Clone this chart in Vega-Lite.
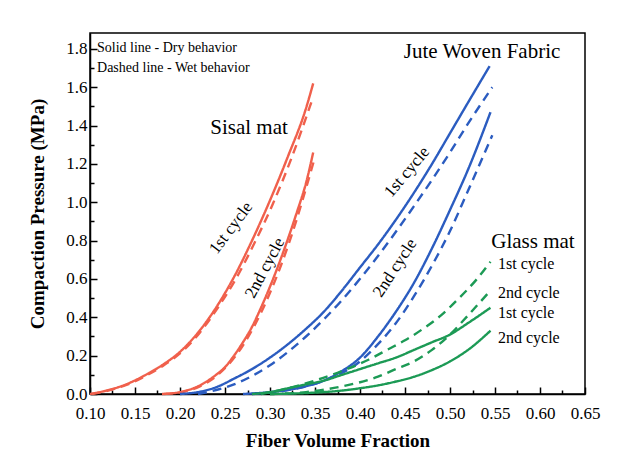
{
  "$schema": "https://vega.github.io/schema/vega-lite/v6.json",
  "width": 495,
  "height": 361,
  "autosize": "none",
  "padding": {"left": 90, "top": 33, "right": 34, "bottom": 76},
  "background": "white",
  "config": {
    "view": {"stroke": "black", "strokeWidth": 1.5},
    "font": "Liberation Serif, Times New Roman, serif",
    "text": {"font": "Liberation Serif, Times New Roman, serif", "color": "black"}
  },
  "datasets": {
    "curves": [
      {"s": "sisal1d", "mat": "Sisal", "cond": "Dry", "x": 0.10, "y": 0.0},
      {"s": "sisal1d", "mat": "Sisal", "cond": "Dry", "x": 0.12, "y": 0.02},
      {"s": "sisal1d", "mat": "Sisal", "cond": "Dry", "x": 0.14, "y": 0.05},
      {"s": "sisal1d", "mat": "Sisal", "cond": "Dry", "x": 0.16, "y": 0.095},
      {"s": "sisal1d", "mat": "Sisal", "cond": "Dry", "x": 0.18, "y": 0.15},
      {"s": "sisal1d", "mat": "Sisal", "cond": "Dry", "x": 0.20, "y": 0.22},
      {"s": "sisal1d", "mat": "Sisal", "cond": "Dry", "x": 0.22, "y": 0.32},
      {"s": "sisal1d", "mat": "Sisal", "cond": "Dry", "x": 0.24, "y": 0.45},
      {"s": "sisal1d", "mat": "Sisal", "cond": "Dry", "x": 0.26, "y": 0.61},
      {"s": "sisal1d", "mat": "Sisal", "cond": "Dry", "x": 0.28, "y": 0.80},
      {"s": "sisal1d", "mat": "Sisal", "cond": "Dry", "x": 0.30, "y": 1.01},
      {"s": "sisal1d", "mat": "Sisal", "cond": "Dry", "x": 0.32, "y": 1.24},
      {"s": "sisal1d", "mat": "Sisal", "cond": "Dry", "x": 0.34, "y": 1.49},
      {"s": "sisal1d", "mat": "Sisal", "cond": "Dry", "x": 0.348, "y": 1.62},

      {"s": "sisal1w", "mat": "Sisal", "cond": "Wet", "x": 0.102, "y": 0.0},
      {"s": "sisal1w", "mat": "Sisal", "cond": "Wet", "x": 0.122, "y": 0.02},
      {"s": "sisal1w", "mat": "Sisal", "cond": "Wet", "x": 0.142, "y": 0.05},
      {"s": "sisal1w", "mat": "Sisal", "cond": "Wet", "x": 0.162, "y": 0.095},
      {"s": "sisal1w", "mat": "Sisal", "cond": "Wet", "x": 0.182, "y": 0.15},
      {"s": "sisal1w", "mat": "Sisal", "cond": "Wet", "x": 0.202, "y": 0.22},
      {"s": "sisal1w", "mat": "Sisal", "cond": "Wet", "x": 0.222, "y": 0.32},
      {"s": "sisal1w", "mat": "Sisal", "cond": "Wet", "x": 0.242, "y": 0.45},
      {"s": "sisal1w", "mat": "Sisal", "cond": "Wet", "x": 0.262, "y": 0.60},
      {"s": "sisal1w", "mat": "Sisal", "cond": "Wet", "x": 0.283, "y": 0.79},
      {"s": "sisal1w", "mat": "Sisal", "cond": "Wet", "x": 0.303, "y": 0.99},
      {"s": "sisal1w", "mat": "Sisal", "cond": "Wet", "x": 0.323, "y": 1.22},
      {"s": "sisal1w", "mat": "Sisal", "cond": "Wet", "x": 0.348, "y": 1.55},

      {"s": "sisal2d", "mat": "Sisal", "cond": "Dry", "x": 0.18, "y": 0.0},
      {"s": "sisal2d", "mat": "Sisal", "cond": "Dry", "x": 0.20, "y": 0.01},
      {"s": "sisal2d", "mat": "Sisal", "cond": "Dry", "x": 0.22, "y": 0.04},
      {"s": "sisal2d", "mat": "Sisal", "cond": "Dry", "x": 0.24, "y": 0.10},
      {"s": "sisal2d", "mat": "Sisal", "cond": "Dry", "x": 0.25, "y": 0.14},
      {"s": "sisal2d", "mat": "Sisal", "cond": "Dry", "x": 0.26, "y": 0.20},
      {"s": "sisal2d", "mat": "Sisal", "cond": "Dry", "x": 0.27, "y": 0.27},
      {"s": "sisal2d", "mat": "Sisal", "cond": "Dry", "x": 0.28, "y": 0.35},
      {"s": "sisal2d", "mat": "Sisal", "cond": "Dry", "x": 0.29, "y": 0.45},
      {"s": "sisal2d", "mat": "Sisal", "cond": "Dry", "x": 0.30, "y": 0.56},
      {"s": "sisal2d", "mat": "Sisal", "cond": "Dry", "x": 0.31, "y": 0.68},
      {"s": "sisal2d", "mat": "Sisal", "cond": "Dry", "x": 0.32, "y": 0.81},
      {"s": "sisal2d", "mat": "Sisal", "cond": "Dry", "x": 0.33, "y": 0.95},
      {"s": "sisal2d", "mat": "Sisal", "cond": "Dry", "x": 0.34, "y": 1.10},
      {"s": "sisal2d", "mat": "Sisal", "cond": "Dry", "x": 0.348, "y": 1.26},

      {"s": "sisal2w", "mat": "Sisal", "cond": "Wet", "x": 0.182, "y": 0.0},
      {"s": "sisal2w", "mat": "Sisal", "cond": "Wet", "x": 0.202, "y": 0.01},
      {"s": "sisal2w", "mat": "Sisal", "cond": "Wet", "x": 0.222, "y": 0.04},
      {"s": "sisal2w", "mat": "Sisal", "cond": "Wet", "x": 0.242, "y": 0.10},
      {"s": "sisal2w", "mat": "Sisal", "cond": "Wet", "x": 0.262, "y": 0.20},
      {"s": "sisal2w", "mat": "Sisal", "cond": "Wet", "x": 0.282, "y": 0.35},
      {"s": "sisal2w", "mat": "Sisal", "cond": "Wet", "x": 0.302, "y": 0.55},
      {"s": "sisal2w", "mat": "Sisal", "cond": "Wet", "x": 0.322, "y": 0.80},
      {"s": "sisal2w", "mat": "Sisal", "cond": "Wet", "x": 0.349, "y": 1.22},

      {"s": "jute1d", "mat": "Jute", "cond": "Dry", "x": 0.20, "y": 0.0},
      {"s": "jute1d", "mat": "Jute", "cond": "Dry", "x": 0.22, "y": 0.01},
      {"s": "jute1d", "mat": "Jute", "cond": "Dry", "x": 0.24, "y": 0.035},
      {"s": "jute1d", "mat": "Jute", "cond": "Dry", "x": 0.26, "y": 0.08},
      {"s": "jute1d", "mat": "Jute", "cond": "Dry", "x": 0.28, "y": 0.13},
      {"s": "jute1d", "mat": "Jute", "cond": "Dry", "x": 0.30, "y": 0.19},
      {"s": "jute1d", "mat": "Jute", "cond": "Dry", "x": 0.32, "y": 0.26},
      {"s": "jute1d", "mat": "Jute", "cond": "Dry", "x": 0.34, "y": 0.34},
      {"s": "jute1d", "mat": "Jute", "cond": "Dry", "x": 0.36, "y": 0.43},
      {"s": "jute1d", "mat": "Jute", "cond": "Dry", "x": 0.38, "y": 0.54},
      {"s": "jute1d", "mat": "Jute", "cond": "Dry", "x": 0.40, "y": 0.66},
      {"s": "jute1d", "mat": "Jute", "cond": "Dry", "x": 0.42, "y": 0.78},
      {"s": "jute1d", "mat": "Jute", "cond": "Dry", "x": 0.44, "y": 0.91},
      {"s": "jute1d", "mat": "Jute", "cond": "Dry", "x": 0.46, "y": 1.05},
      {"s": "jute1d", "mat": "Jute", "cond": "Dry", "x": 0.48, "y": 1.20},
      {"s": "jute1d", "mat": "Jute", "cond": "Dry", "x": 0.50, "y": 1.36},
      {"s": "jute1d", "mat": "Jute", "cond": "Dry", "x": 0.52, "y": 1.52},
      {"s": "jute1d", "mat": "Jute", "cond": "Dry", "x": 0.544, "y": 1.71},

      {"s": "jute1w", "mat": "Jute", "cond": "Wet", "x": 0.22, "y": 0.0},
      {"s": "jute1w", "mat": "Jute", "cond": "Wet", "x": 0.26, "y": 0.05},
      {"s": "jute1w", "mat": "Jute", "cond": "Wet", "x": 0.30, "y": 0.15},
      {"s": "jute1w", "mat": "Jute", "cond": "Wet", "x": 0.34, "y": 0.30},
      {"s": "jute1w", "mat": "Jute", "cond": "Wet", "x": 0.38, "y": 0.49},
      {"s": "jute1w", "mat": "Jute", "cond": "Wet", "x": 0.42, "y": 0.72},
      {"s": "jute1w", "mat": "Jute", "cond": "Wet", "x": 0.46, "y": 0.98},
      {"s": "jute1w", "mat": "Jute", "cond": "Wet", "x": 0.50, "y": 1.26},
      {"s": "jute1w", "mat": "Jute", "cond": "Wet", "x": 0.52, "y": 1.41},
      {"s": "jute1w", "mat": "Jute", "cond": "Wet", "x": 0.547, "y": 1.60},

      {"s": "jute2d", "mat": "Jute", "cond": "Dry", "x": 0.27, "y": 0.0},
      {"s": "jute2d", "mat": "Jute", "cond": "Dry", "x": 0.30, "y": 0.01},
      {"s": "jute2d", "mat": "Jute", "cond": "Dry", "x": 0.33, "y": 0.03},
      {"s": "jute2d", "mat": "Jute", "cond": "Dry", "x": 0.36, "y": 0.07},
      {"s": "jute2d", "mat": "Jute", "cond": "Dry", "x": 0.38, "y": 0.12},
      {"s": "jute2d", "mat": "Jute", "cond": "Dry", "x": 0.40, "y": 0.19},
      {"s": "jute2d", "mat": "Jute", "cond": "Dry", "x": 0.42, "y": 0.30},
      {"s": "jute2d", "mat": "Jute", "cond": "Dry", "x": 0.44, "y": 0.43},
      {"s": "jute2d", "mat": "Jute", "cond": "Dry", "x": 0.46, "y": 0.58},
      {"s": "jute2d", "mat": "Jute", "cond": "Dry", "x": 0.48, "y": 0.76},
      {"s": "jute2d", "mat": "Jute", "cond": "Dry", "x": 0.50, "y": 0.96},
      {"s": "jute2d", "mat": "Jute", "cond": "Dry", "x": 0.52, "y": 1.17},
      {"s": "jute2d", "mat": "Jute", "cond": "Dry", "x": 0.545, "y": 1.47},

      {"s": "jute2w", "mat": "Jute", "cond": "Wet", "x": 0.28, "y": 0.0},
      {"s": "jute2w", "mat": "Jute", "cond": "Wet", "x": 0.32, "y": 0.02},
      {"s": "jute2w", "mat": "Jute", "cond": "Wet", "x": 0.36, "y": 0.07},
      {"s": "jute2w", "mat": "Jute", "cond": "Wet", "x": 0.40, "y": 0.17},
      {"s": "jute2w", "mat": "Jute", "cond": "Wet", "x": 0.42, "y": 0.26},
      {"s": "jute2w", "mat": "Jute", "cond": "Wet", "x": 0.44, "y": 0.37},
      {"s": "jute2w", "mat": "Jute", "cond": "Wet", "x": 0.46, "y": 0.51},
      {"s": "jute2w", "mat": "Jute", "cond": "Wet", "x": 0.48, "y": 0.67},
      {"s": "jute2w", "mat": "Jute", "cond": "Wet", "x": 0.50, "y": 0.85},
      {"s": "jute2w", "mat": "Jute", "cond": "Wet", "x": 0.52, "y": 1.06},
      {"s": "jute2w", "mat": "Jute", "cond": "Wet", "x": 0.547, "y": 1.35},

      {"s": "glass1d", "mat": "Glass", "cond": "Dry", "x": 0.28, "y": 0.0},
      {"s": "glass1d", "mat": "Glass", "cond": "Dry", "x": 0.30, "y": 0.01},
      {"s": "glass1d", "mat": "Glass", "cond": "Dry", "x": 0.32, "y": 0.03},
      {"s": "glass1d", "mat": "Glass", "cond": "Dry", "x": 0.34, "y": 0.05},
      {"s": "glass1d", "mat": "Glass", "cond": "Dry", "x": 0.36, "y": 0.07},
      {"s": "glass1d", "mat": "Glass", "cond": "Dry", "x": 0.38, "y": 0.10},
      {"s": "glass1d", "mat": "Glass", "cond": "Dry", "x": 0.40, "y": 0.13},
      {"s": "glass1d", "mat": "Glass", "cond": "Dry", "x": 0.42, "y": 0.16},
      {"s": "glass1d", "mat": "Glass", "cond": "Dry", "x": 0.44, "y": 0.19},
      {"s": "glass1d", "mat": "Glass", "cond": "Dry", "x": 0.46, "y": 0.23},
      {"s": "glass1d", "mat": "Glass", "cond": "Dry", "x": 0.48, "y": 0.27},
      {"s": "glass1d", "mat": "Glass", "cond": "Dry", "x": 0.50, "y": 0.31},
      {"s": "glass1d", "mat": "Glass", "cond": "Dry", "x": 0.52, "y": 0.37},
      {"s": "glass1d", "mat": "Glass", "cond": "Dry", "x": 0.545, "y": 0.45},

      {"s": "glass2d", "mat": "Glass", "cond": "Dry", "x": 0.30, "y": 0.0},
      {"s": "glass2d", "mat": "Glass", "cond": "Dry", "x": 0.34, "y": 0.005},
      {"s": "glass2d", "mat": "Glass", "cond": "Dry", "x": 0.38, "y": 0.018},
      {"s": "glass2d", "mat": "Glass", "cond": "Dry", "x": 0.40, "y": 0.03},
      {"s": "glass2d", "mat": "Glass", "cond": "Dry", "x": 0.42, "y": 0.045},
      {"s": "glass2d", "mat": "Glass", "cond": "Dry", "x": 0.44, "y": 0.065},
      {"s": "glass2d", "mat": "Glass", "cond": "Dry", "x": 0.46, "y": 0.09},
      {"s": "glass2d", "mat": "Glass", "cond": "Dry", "x": 0.48, "y": 0.125},
      {"s": "glass2d", "mat": "Glass", "cond": "Dry", "x": 0.50, "y": 0.17},
      {"s": "glass2d", "mat": "Glass", "cond": "Dry", "x": 0.52, "y": 0.23},
      {"s": "glass2d", "mat": "Glass", "cond": "Dry", "x": 0.545, "y": 0.33},

      {"s": "glass1w", "mat": "Glass", "cond": "Wet", "x": 0.29, "y": 0.0},
      {"s": "glass1w", "mat": "Glass", "cond": "Wet", "x": 0.32, "y": 0.03},
      {"s": "glass1w", "mat": "Glass", "cond": "Wet", "x": 0.35, "y": 0.07},
      {"s": "glass1w", "mat": "Glass", "cond": "Wet", "x": 0.38, "y": 0.12},
      {"s": "glass1w", "mat": "Glass", "cond": "Wet", "x": 0.41, "y": 0.18},
      {"s": "glass1w", "mat": "Glass", "cond": "Wet", "x": 0.43, "y": 0.23},
      {"s": "glass1w", "mat": "Glass", "cond": "Wet", "x": 0.45, "y": 0.28},
      {"s": "glass1w", "mat": "Glass", "cond": "Wet", "x": 0.47, "y": 0.34},
      {"s": "glass1w", "mat": "Glass", "cond": "Wet", "x": 0.49, "y": 0.41},
      {"s": "glass1w", "mat": "Glass", "cond": "Wet", "x": 0.51, "y": 0.50},
      {"s": "glass1w", "mat": "Glass", "cond": "Wet", "x": 0.53, "y": 0.60},
      {"s": "glass1w", "mat": "Glass", "cond": "Wet", "x": 0.545, "y": 0.69},

      {"s": "glass2w", "mat": "Glass", "cond": "Wet", "x": 0.30, "y": 0.0},
      {"s": "glass2w", "mat": "Glass", "cond": "Wet", "x": 0.34, "y": 0.01},
      {"s": "glass2w", "mat": "Glass", "cond": "Wet", "x": 0.38, "y": 0.04},
      {"s": "glass2w", "mat": "Glass", "cond": "Wet", "x": 0.42, "y": 0.09},
      {"s": "glass2w", "mat": "Glass", "cond": "Wet", "x": 0.44, "y": 0.13},
      {"s": "glass2w", "mat": "Glass", "cond": "Wet", "x": 0.46, "y": 0.17},
      {"s": "glass2w", "mat": "Glass", "cond": "Wet", "x": 0.48, "y": 0.23},
      {"s": "glass2w", "mat": "Glass", "cond": "Wet", "x": 0.50, "y": 0.31},
      {"s": "glass2w", "mat": "Glass", "cond": "Wet", "x": 0.52, "y": 0.41},
      {"s": "glass2w", "mat": "Glass", "cond": "Wet", "x": 0.545, "y": 0.54}
    ],
    "notes": [
      {"x": 0.1078, "y": 1.805, "t": "Solid line - Dry behavior"},
      {"x": 0.1078, "y": 1.70, "t": "Dashed line - Wet behavior"}
    ],
    "bigLabels": [
      {"x": 0.2767, "y": 1.388, "t": "Sisal mat"},
      {"x": 0.5356, "y": 1.784, "t": "Jute Woven Fabric"},
      {"x": 0.5922, "y": 0.793, "t": "Glass mat"}
    ],
    "glassLabels": [
      {"x": 0.5533, "y": 0.678, "t": "1st cycle"},
      {"x": 0.5533, "y": 0.527, "t": "2nd cycle"},
      {"x": 0.5533, "y": 0.4225, "t": "1st cycle"},
      {"x": 0.5533, "y": 0.292, "t": "2nd cycle"}
    ],
    "rot1": [{"x": 0.2567, "y": 0.866, "t": "1st cycle"}],
    "rot2": [{"x": 0.2944, "y": 0.657, "t": "2nd cycle"}],
    "rot3": [{"x": 0.4522, "y": 1.158, "t": "1st cycle"}],
    "rot4": [{"x": 0.4389, "y": 0.657, "t": "2nd cycle"}]
  },
  "encoding": {
    "x": {
      "field": "x", "type": "quantitative",
      "scale": {"domain": [0.1, 0.65], "nice": false, "zero": false},
      "axis": {
        "title": "Fiber Volume Fraction",
        "values": [0.1, 0.125, 0.15, 0.175, 0.2, 0.225, 0.25, 0.275, 0.3, 0.325, 0.35, 0.375, 0.4, 0.425, 0.45, 0.475, 0.5, 0.525, 0.55, 0.575, 0.6, 0.625, 0.65],
        "labelExpr": "round(datum.value*1000) % 50 == 0 ? format(datum.value, '.2f') : ''",
        "tickSize": {"condition": {"test": "round(datum.value*1000) % 50 != 0", "value": -4}, "value": -7},
        "tickColor": "black", "tickWidth": 1.5,
        "domainColor": "black", "domainWidth": 1.5,
        "labelFont": "Liberation Serif, Times New Roman, serif", "labelFontSize": 17, "labelColor": "black",
        "labelPadding": 18, "labelFlush": false, "labelOverlap": false,
        "titleFont": "Liberation Serif, Times New Roman, serif", "titleFontSize": 19, "titleFontWeight": "bold", "titleColor": "black",
        "titlePadding": 7, "grid": false
      }
    },
    "y": {
      "field": "y", "type": "quantitative",
      "scale": {"domain": [0, 1.883], "nice": false},
      "axis": {
        "title": "Compaction Pressure (MPa)",
        "values": [0, 0.1, 0.2, 0.3, 0.4, 0.5, 0.6, 0.7, 0.8, 0.9, 1.0, 1.1, 1.2, 1.3, 1.4, 1.5, 1.6, 1.7, 1.8],
        "labelExpr": "round(datum.value*10) % 2 == 0 ? format(datum.value, '.1f') : ''",
        "tickSize": {"condition": {"test": "round(datum.value*10) % 2 != 0", "value": -4}, "value": -7},
        "tickColor": "black", "tickWidth": 1.5,
        "domainColor": "black", "domainWidth": 1.5,
        "labelFont": "Liberation Serif, Times New Roman, serif", "labelFontSize": 17, "labelColor": "black",
        "labelPadding": 10, "labelFlush": false, "labelOverlap": false,
        "titleFont": "Liberation Serif, Times New Roman, serif", "titleFontSize": 19, "titleFontWeight": "bold", "titleColor": "black",
        "titlePadding": 18, "grid": false
      }
    }
  },
  "layer": [
    {
      "data": {"name": "curves"},
      "mark": {"type": "line", "strokeWidth": 2.4, "interpolate": "monotone"},
      "encoding": {
        "detail": {"field": "s"},
        "color": {"field": "mat", "type": "nominal", "scale": {"domain": ["Sisal", "Jute", "Glass"], "range": ["#f0604c", "#2b5cc0", "#1c9a55"]}, "legend": null},
        "strokeDash": {"field": "cond", "type": "nominal", "scale": {"domain": ["Dry", "Wet"], "range": [[1, 0], [9, 6]]}, "legend": null}
      }
    },
    {
      "data": {"name": "notes"},
      "mark": {"type": "text", "align": "left", "baseline": "middle", "fontSize": 14},
      "encoding": {"text": {"field": "t"}}
    },
    {
      "data": {"name": "bigLabels"},
      "mark": {"type": "text", "align": "center", "baseline": "middle", "fontSize": 21},
      "encoding": {"text": {"field": "t"}}
    },
    {
      "data": {"name": "glassLabels"},
      "mark": {"type": "text", "align": "left", "baseline": "middle", "fontSize": 16},
      "encoding": {"text": {"field": "t"}}
    },
    {
      "data": {"name": "rot1"},
      "mark": {"type": "text", "align": "center", "baseline": "middle", "fontSize": 17, "angle": -53},
      "encoding": {"text": {"field": "t"}}
    },
    {
      "data": {"name": "rot2"},
      "mark": {"type": "text", "align": "center", "baseline": "middle", "fontSize": 17, "angle": -62},
      "encoding": {"text": {"field": "t"}}
    },
    {
      "data": {"name": "rot3"},
      "mark": {"type": "text", "align": "center", "baseline": "middle", "fontSize": 17, "angle": -50},
      "encoding": {"text": {"field": "t"}}
    },
    {
      "data": {"name": "rot4"},
      "mark": {"type": "text", "align": "center", "baseline": "middle", "fontSize": 17, "angle": -57},
      "encoding": {"text": {"field": "t"}}
    }
  ]
}
